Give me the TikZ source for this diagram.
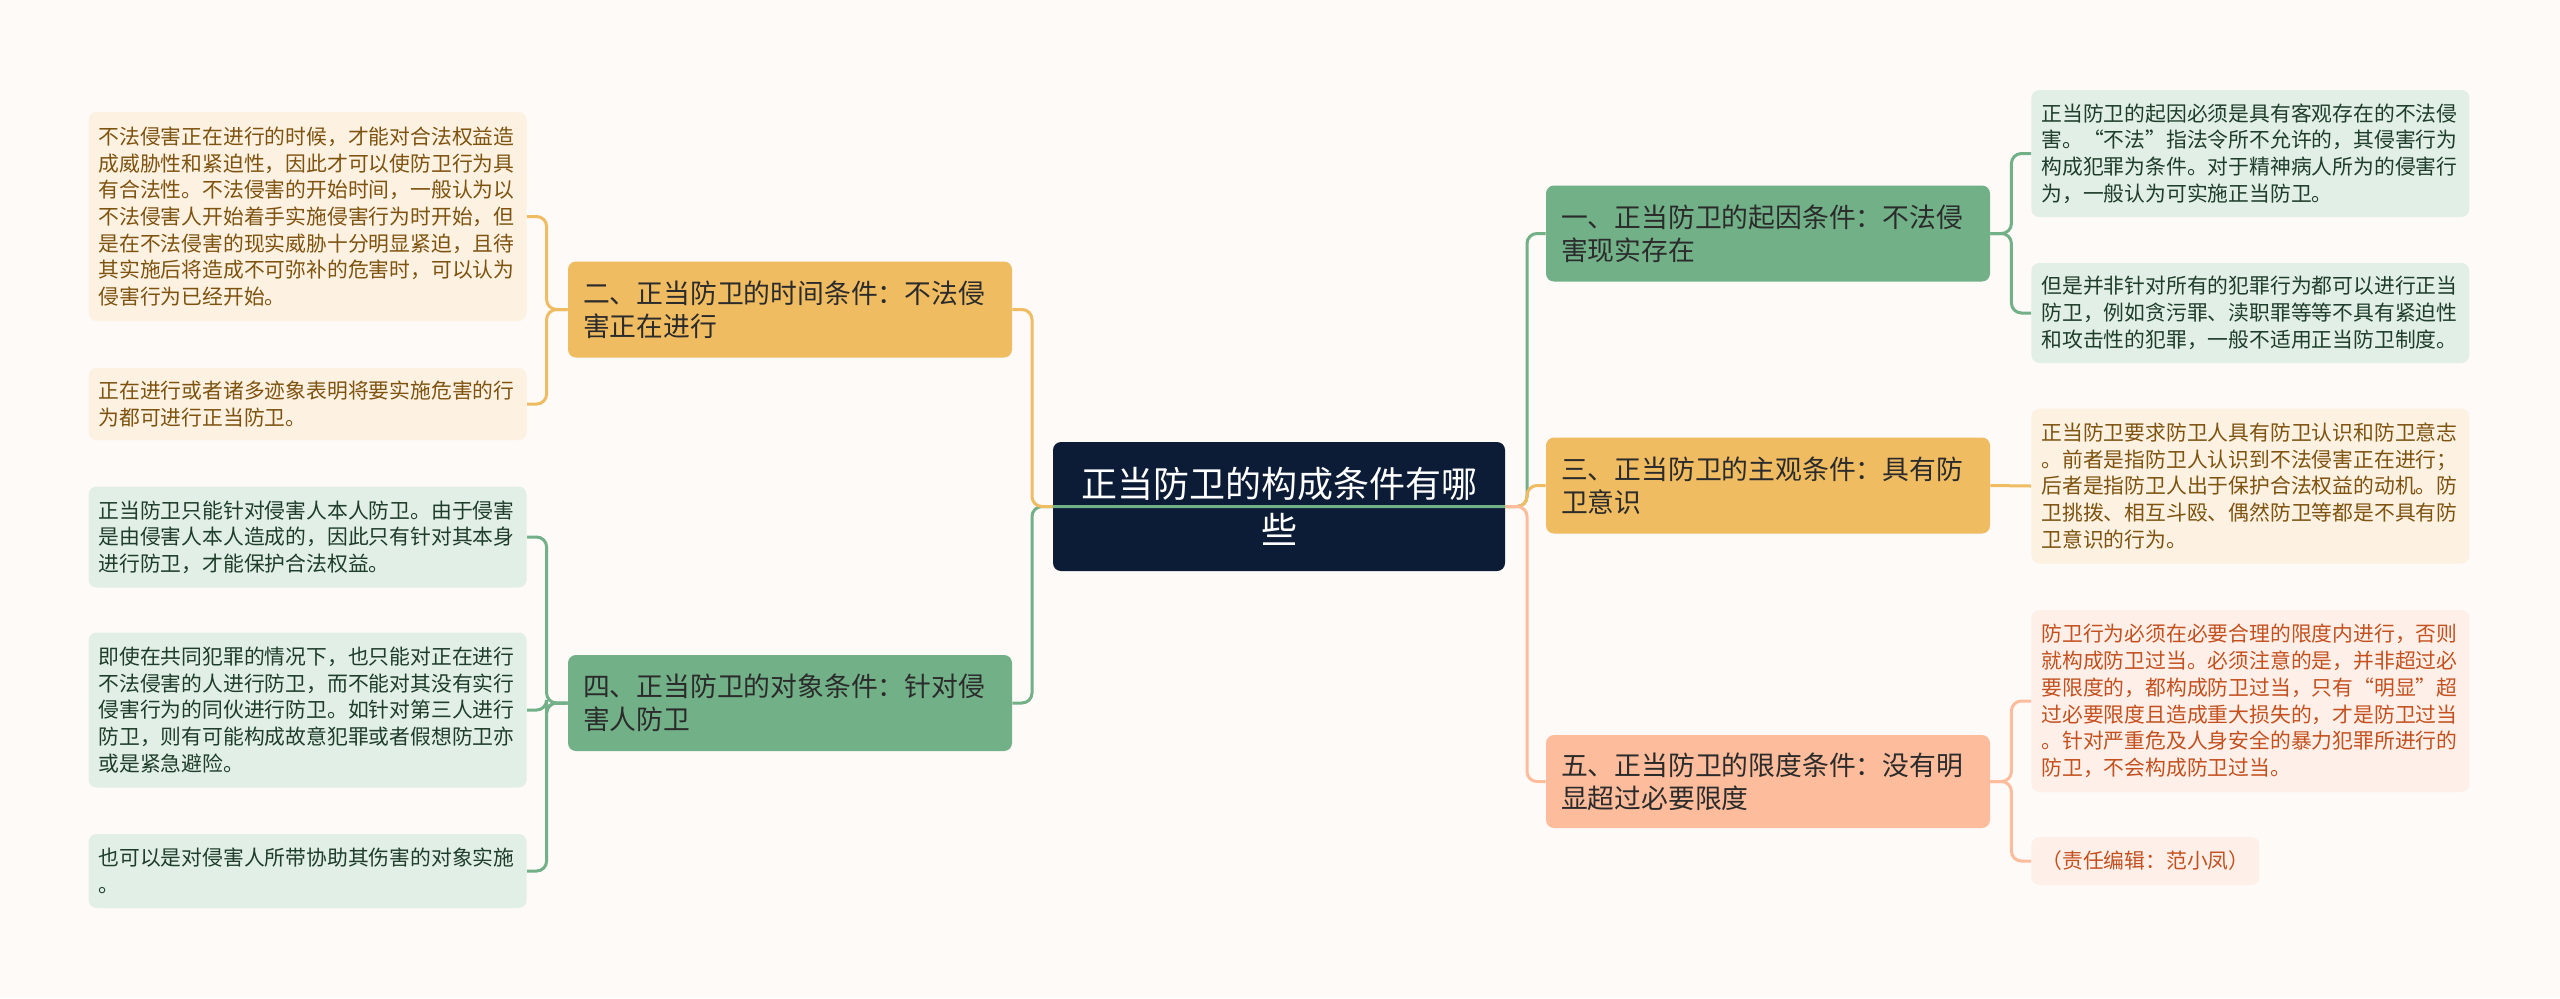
\documentclass[tikz,border=0pt]{standalone}
\usepackage{fontspec}
\usepackage{xcolor}
\usepackage{tikz}
\usetikzlibrary{positioning}
\newfontfamily\cjk{Noto Sans CJK SC}
\definecolor{paper}{HTML}{FDFAF8}
\definecolor{navy}{HTML}{0C1C36}
\definecolor{sage}{HTML}{72B088}
\definecolor{sagelight}{HTML}{E2EFE6}
\definecolor{sagetext}{HTML}{1E3D2A}
\definecolor{amber}{HTML}{F0BC62}
\definecolor{amberlight}{HTML}{FDF2E2}
\definecolor{ambertext}{HTML}{7E5310}
\definecolor{peach}{HTML}{FDBC9B}
\definecolor{peachlight}{HTML}{FEF0E8}
\definecolor{peachtext}{HTML}{C4501F}
\definecolor{ink}{HTML}{2B2B2B}

\begin{document}
\begin{tikzpicture}[
x=0.5pt, y=-0.5pt,
root/.style={
rectangle,
rounded corners=4pt,
fill=navy,
text=white,
minimum width=226pt,
minimum height=64.5pt,
text width=210pt,
align=center,
font=\cjk\fontsize{18}{23}\selectfont
},
branch/.style={
rectangle,
rounded corners=4pt,
minimum width=222pt,
minimum height=48pt,
inner xsep=7.5pt,
text width=207pt,
align=left,
text=ink,
font=\cjk\fontsize{13.4}{16.3}\selectfont
},
leaf/.style={
rectangle,
rounded corners=4pt,
inner xsep=5pt,
inner ysep=0pt,
text width=209pt,
align=left,
font=\cjk\fontsize{10.4}{13.35}\selectfont
},
note/.style={
rectangle,
rounded corners=4pt,
inner xsep=5pt,
inner ysep=0pt,
font=\cjk\fontsize{10.4}{13.35}\selectfont
},
link/.style={line width=1.5pt, rounded corners=5pt}
]

\fill[paper] (0,0) rectangle (2560,998);
\useasboundingbox (0,0) rectangle (2560,998);

\node[root] (root) at (1279,506.5) {正当防卫的构成条件有哪\\些};

\node[branch, fill=amber] (time) at (790,309.5) {二、正当防卫的时间条件：不法侵\\害正在进行};
\node[branch, fill=sage] (target) at (790,703) {四、正当防卫的对象条件：针对侵\\害人防卫};
\node[branch, fill=sage] (cause) at (1768,233.5) {一、正当防卫的起因条件：不法侵\\害现实存在};
\node[branch, fill=amber] (intent) at (1768,485.5) {三、正当防卫的主观条件：具有防\\卫意识};
\node[branch, fill=peach, minimum height=46.5pt] (limit) at (1768,781.5) {五、正当防卫的限度条件：没有明\\显超过必要限度};

\node[leaf, fill=amberlight, text=ambertext, minimum height=104.5pt, anchor=east] (timeA) at (527,216.5) {不法侵害正在进行的时候，才能对合法权益造\\成威胁性和紧迫性，因此才可以使防卫行为具\\有合法性。不法侵害的开始时间，一般认为以\\不法侵害人开始着手实施侵害行为时开始，但\\是在不法侵害的现实威胁十分明显紧迫，且待\\其实施后将造成不可弥补的危害时，可以认为\\侵害行为已经开始。};
\node[leaf, fill=amberlight, text=ambertext, minimum height=36pt, anchor=east] (timeB) at (527,404) {正在进行或者诸多迹象表明将要实施危害的行\\为都可进行正当防卫。};

\node[leaf, fill=sagelight, text=sagetext, minimum height=50.5pt, anchor=east] (targetA) at (527,537) {正当防卫只能针对侵害人本人防卫。由于侵害\\是由侵害人本人造成的，因此只有针对其本身\\进行防卫，才能保护合法权益。};
\node[leaf, fill=sagelight, text=sagetext, minimum height=77.5pt, anchor=east] (targetB) at (527,710) {即使在共同犯罪的情况下，也只能对正在进行\\不法侵害的人进行防卫，而不能对其没有实行\\侵害行为的同伙进行防卫。如针对第三人进行\\防卫，则有可能构成故意犯罪或者假想防卫亦\\或是紧急避险。};
\node[leaf, fill=sagelight, text=sagetext, minimum height=37pt, anchor=east] (targetC) at (527,871) {也可以是对侵害人所带协助其伤害的对象实施\\。};

\node[leaf, fill=sagelight, text=sagetext, minimum height=63.5pt, anchor=west] (causeA) at (2031,153.5) {正当防卫的起因必须是具有客观存在的不法侵\\害。“不法”指法令所不允许的，其侵害行为\\构成犯罪为条件。对于精神病人所为的侵害行\\为，一般认为可实施正当防卫。};
\node[leaf, fill=sagelight, text=sagetext, minimum height=50pt, anchor=west] (causeB) at (2031,313) {但是并非针对所有的犯罪行为都可以进行正当\\防卫，例如贪污罪、渎职罪等等不具有紧迫性\\和攻击性的犯罪，一般不适用正当防卫制度。};

\node[leaf, fill=amberlight, text=ambertext, minimum height=77.5pt, anchor=west] (intentA) at (2031,486) {正当防卫要求防卫人具有防卫认识和防卫意志\\。前者是指防卫人认识到不法侵害正在进行；\\后者是指防卫人出于保护合法权益的动机。防\\卫挑拨、相互斗殴、偶然防卫等都是不具有防\\卫意识的行为。};

\node[leaf, fill=peachlight, text=peachtext, minimum height=91pt, anchor=west] (limitA) at (2031,701) {防卫行为必须在必要合理的限度内进行，否则\\就构成防卫过当。必须注意的是，并非超过必\\要限度的，都构成防卫过当，只有“明显”超\\过必要限度且造成重大损失的，才是防卫过当\\。针对严重危及人身安全的暴力犯罪所进行的\\防卫，不会构成防卫过当。};
\node[note, fill=peachlight, text=peachtext, minimum height=24pt, anchor=west] (limitB) at (2031,861) {（责任编辑：范小凤）};

\coordinate (ltrunk) at (1032,506.5);
\coordinate (rtrunk) at (1527,506.5);

\draw[link, sage] (root.center) -- (ltrunk) |- (target.east);
\draw[link, sage] (root.center) -- (rtrunk) |- (cause.west);
\draw[link, amber] (root.west) -- (ltrunk) |- (time.east);
\draw[link, amber] (root.east) -- (rtrunk) |- (intent.west);
\draw[link, peach] (root.east) -- (rtrunk) |- (limit.west);

\foreach \leaf in {timeA,timeB}
\draw[link, amber] (time.west) -- ++(-21,0) |- (\leaf.east);
\foreach \leaf in {targetA,targetB,targetC}
\draw[link, sage] (target.west) -- ++(-21,0) |- (\leaf.east);
\foreach \leaf in {causeA,causeB}
\draw[link, sage] (cause.east) -- ++(21,0) |- (\leaf.west);
\draw[link, amber] (intent.east) -- (intentA.west);
\foreach \leaf in {limitA,limitB}
\draw[link, peach] (limit.east) -- ++(21,0) |- (\leaf.west);

\end{tikzpicture}
\end{document}
